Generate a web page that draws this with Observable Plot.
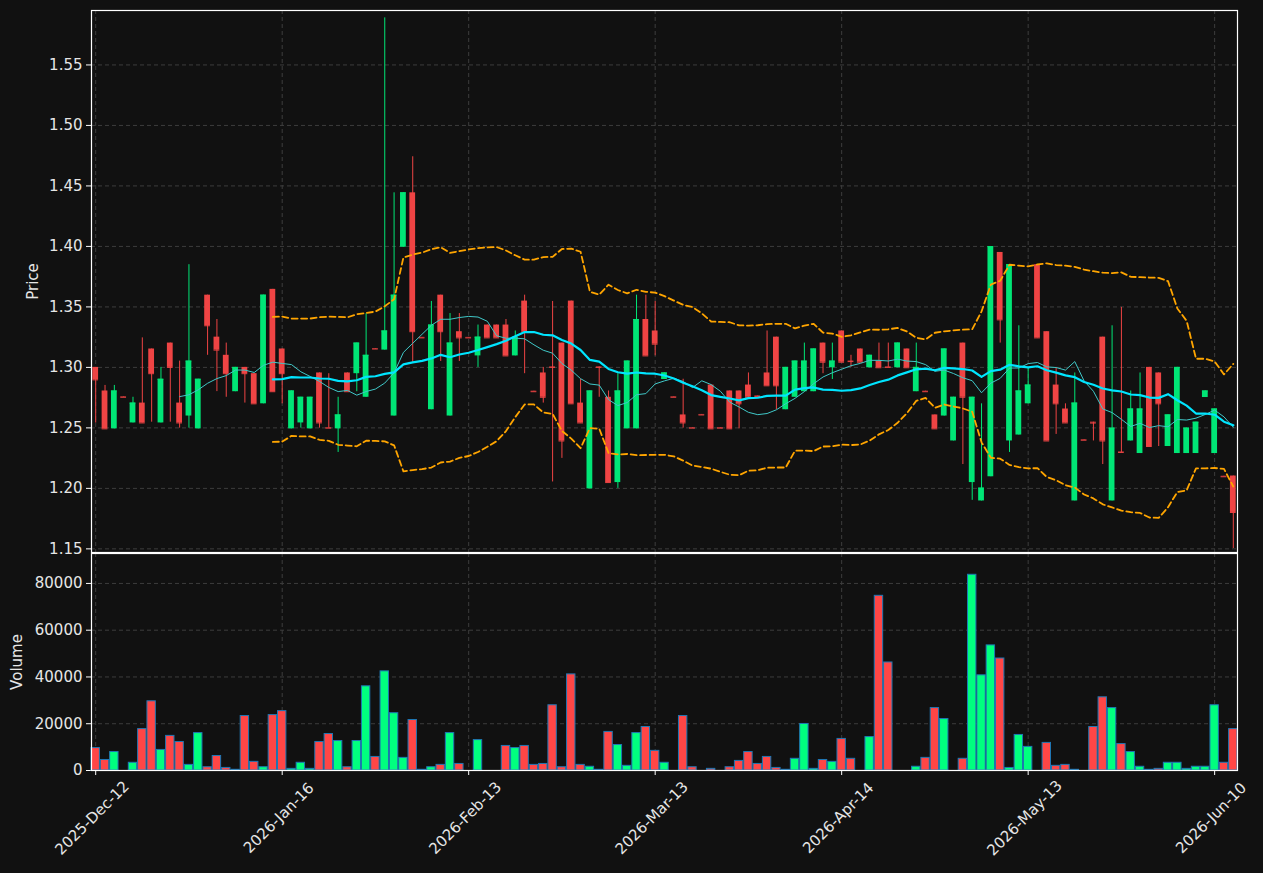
<!DOCTYPE html>
<html>
<head>
<meta charset="utf-8">
<script src="https://cdn.jsdelivr.net/npm/d3@7"></script>
<script src="https://cdn.jsdelivr.net/npm/@observablehq/plot@0.6"></script>
<style>
  html, body { margin: 0; padding: 0; background: #111111; }
  #chart { position: relative; width: 1263px; height: 873px; background: #111111; overflow: hidden; }
  #chart svg { position: absolute; left: 0; overflow: visible; }
</style>
</head>
<body>
<div id="chart"></div>
<script>
// ---- Data ----
const tickIndex = [0, 20, 40, 60, 80, 100, 120];
const tickLabels = ["2025-Dec-12", "2026-Jan-16", "2026-Feb-13", "2026-Mar-13", "2026-Apr-14", "2026-May-13", "2026-Jun-10"];
const priceTicks = [1.15, 1.20, 1.25, 1.30, 1.35, 1.40, 1.45, 1.50, 1.55];
const volumeTicks = [0, 20000, 40000, 60000, 80000];

const opens = [1.3000,1.2805,1.2492,1.2757,1.2541,1.2705,1.3152,1.2541,1.3201,1.2705,
1.2598,1.2492,1.3597,1.3250,1.3100,1.2799,1.3000,1.2948,1.2699,1.3645,
1.3152,1.2492,1.2541,1.2492,1.2954,1.2502,1.2492,1.2954,1.2948,1.2753,
1.3156,1.3143,1.2598,1.3993,1.4443,1.3248,1.2650,1.3597,1.2598,1.3295,
1.3248,1.3095,1.3350,1.3350,1.3350,1.3095,1.3548,1.2803,1.2954,1.3004,
1.3201,1.3548,1.2705,1.1996,1.3004,1.2753,1.2048,1.2492,1.2492,1.3396,
1.3301,1.2900,1.2757,1.2607,1.2502,1.2611,1.2854,1.2502,1.2805,1.2805,
1.2854,1.2764,1.2954,1.3250,1.2650,1.2753,1.2799,1.2799,1.3201,1.2997,
1.3301,1.3052,1.3152,1.2997,1.3052,1.3004,1.2997,1.3152,1.2799,1.2803,
1.2607,1.2598,1.2392,1.3201,1.2048,1.1896,1.2096,1.3950,1.2392,1.2441,
1.2699,1.3849,1.3295,1.2854,1.2656,1.1896,1.2402,1.2547,1.3250,1.1896,
1.2301,1.2392,1.2288,1.3000,1.2954,1.2346,1.2288,1.2288,1.2288,1.2751,
1.2288,1.2100,1.2102];

const highs = [1.3000,1.2851,1.2851,1.2757,1.2753,1.3244,1.3152,1.3000,1.3201,1.3052,
1.3849,1.2902,1.3597,1.3396,1.3201,1.3000,1.3000,1.2948,1.3597,1.3645,
1.3152,1.2805,1.2753,1.2753,1.2954,1.2948,1.2753,1.2954,1.3201,1.3445,
1.3156,1.5889,1.4443,1.4443,1.4741,1.3248,1.3545,1.3597,1.3445,1.3445,
1.3248,1.3350,1.3350,1.3350,1.3396,1.3301,1.3597,1.2803,1.3000,1.3545,
1.3201,1.3548,1.2902,1.2805,1.3004,1.2805,1.2948,1.3052,1.3597,1.3597,
1.3545,1.2954,1.2757,1.2902,1.2502,1.2611,1.2854,1.2502,1.2805,1.2805,
1.2954,1.2764,1.3301,1.3250,1.3000,1.3052,1.3201,1.3152,1.3201,1.3201,
1.3301,1.3100,1.3152,1.3100,1.3201,1.3201,1.3201,1.3152,1.3201,1.2803,
1.2607,1.3152,1.2753,1.3201,1.2753,1.2699,1.3998,1.3950,1.3849,1.3344,
1.3000,1.3849,1.3295,1.3000,1.2699,1.2954,1.2402,1.2547,1.3250,1.3344,
1.3496,1.2805,1.2954,1.3000,1.2954,1.2607,1.3000,1.2498,1.2547,1.2805,
1.2656,1.2100,1.2102];

const lows = [1.2540,1.2492,1.2492,1.2753,1.2541,1.2541,1.2547,1.2541,1.2547,1.2498,
1.2498,1.2492,1.3100,1.2800,1.2753,1.2799,1.2705,1.2699,1.2699,1.2799,
1.2699,1.2492,1.2498,1.2492,1.2498,1.2498,1.2297,1.2799,1.2799,1.2753,
1.3152,1.3143,1.2598,1.3993,1.3043,1.3244,1.2650,1.3049,1.2598,1.3049,
1.3244,1.3000,1.3244,1.3244,1.3095,1.3095,1.2948,1.2799,1.2705,1.2053,
1.2248,1.2699,1.2541,1.1996,1.2753,1.2048,1.2000,1.2492,1.2492,1.3095,
1.3095,1.2900,1.2753,1.2498,1.2498,1.2607,1.2492,1.2498,1.2492,1.2492,
1.2753,1.2760,1.2848,1.2650,1.2650,1.2753,1.2799,1.2799,1.2948,1.2900,
1.3043,1.3000,1.3043,1.2997,1.2997,1.3000,1.2997,1.2997,1.2799,1.2799,
1.2492,1.2598,1.2392,1.2197,1.1901,1.1896,1.2096,1.3201,1.2297,1.2441,
1.2699,1.3244,1.2392,1.2446,1.2541,1.1896,1.2398,1.2392,1.2197,1.1896,
1.2297,1.2392,1.2288,1.2346,1.2346,1.2346,1.2288,1.2288,1.2288,1.2751,
1.2288,1.2096,1.1503];

const closes = [1.2897,1.2492,1.2805,1.2753,1.2705,1.2541,1.2948,1.2902,1.3000,1.2541,
1.3052,1.2902,1.3344,1.3143,1.2948,1.3000,1.2948,1.2699,1.3597,1.2799,
1.2948,1.2805,1.2753,1.2753,1.2541,1.2498,1.2607,1.2799,1.3201,1.3100,
1.3152,1.3301,1.3597,1.4443,1.3295,1.3244,1.3350,1.3295,1.3201,1.3244,
1.3244,1.3250,1.3244,1.3244,1.3095,1.3250,1.3295,1.2799,1.2753,1.3000,
1.2392,1.2699,1.2541,1.2805,1.3000,1.2048,1.2805,1.3052,1.3396,1.3095,
1.3192,1.2954,1.2753,1.2541,1.2498,1.2607,1.2492,1.2498,1.2492,1.2699,
1.2753,1.2760,1.2848,1.2848,1.3000,1.3052,1.3052,1.3152,1.3043,1.3052,
1.3043,1.3048,1.3043,1.3100,1.2997,1.3000,1.3201,1.2997,1.3000,1.2799,
1.2492,1.3152,1.2753,1.2753,1.2753,1.2002,1.3998,1.3393,1.3849,1.2805,
1.2854,1.3244,1.2392,1.2699,1.2541,1.2705,1.2398,1.2540,1.2392,1.2498,
1.2297,1.2656,1.2656,1.2346,1.2699,1.2607,1.3000,1.2498,1.2547,1.2805,
1.2656,1.2096,1.1801];

const volumes = [9600,4500,7900,0,3300,17700,29600,8800,14800,12200,
2400,16000,1400,6200,1100,300,23300,3700,1400,23700,
25400,700,3300,700,12200,15600,12600,1400,12600,36000,
5800,42400,24500,5400,21600,300,1400,2400,16000,2800,
0,13000,0,0,10500,9600,10500,2400,2800,27900,
1400,41100,2400,1600,300,16500,10900,2000,16000,18600,
8400,3300,0,23300,1400,0,700,0,1400,4100,
7900,2800,5800,1100,300,5000,19900,700,4500,3700,
13500,5000,0,14300,74700,46200,0,0,1600,5400,
26700,22000,0,5000,83700,40700,53500,47900,1100,15200,
10100,0,11800,2000,2400,300,0,18600,31300,26700,
11300,7900,1600,300,700,3300,3300,700,1600,1600,
27900,3300,17700];

// ---- Styles ----
const UP = "#00e676", DOWN = "#ef4444";
const VUP = "#00ff7f", VDOWN = "#ff4646";
const GRID = "#3d3d3d";
const TEXT = "#e6e6e6";
const FONT = "DejaVu Sans";
const FS = 15;

// ---- Derived (from closes) ----
const n = closes.length;
const idx = d3.range(n);
const candles = idx.map(i => ({
  i, open: opens[i], high: highs[i], low: lows[i], close: closes[i], vol: volumes[i],
  up: closes[i] >= opens[i]
}));
function sma(p) {
  return idx.filter(i => i >= p - 1).map(i => ({i, v: d3.mean(closes.slice(i - p + 1, i + 1))}));
}
const ma10 = sma(10);
const ma20 = sma(20);
const bands = idx.filter(i => i >= 19).map(i => {
  const w = closes.slice(i - 19, i + 1);
  const m = d3.mean(w);
  const sd = Math.sqrt(d3.mean(w, x => (x - m) ** 2));
  return {i, upper: m + 2 * sd, lower: m - 2 * sd};
});

const xDomain = [-0.45, 122.45];
const W = 1263;

const price = Plot.plot({
  width: W, height: 553,
  marginLeft: 91, marginRight: 26, marginTop: 10, marginBottom: 1,
  style: {background: "transparent", color: TEXT, fontFamily: FONT, fontSize: FS + "px"},
  x: {domain: xDomain, axis: null},
  y: {domain: [1.147, 1.595]},
  color: {type: "identity"},
  marks: [
    Plot.gridY(priceTicks, {stroke: GRID, strokeOpacity: 1, strokeDasharray: "4,3"}),
    Plot.gridX(tickIndex, {stroke: GRID, strokeOpacity: 1, strokeDasharray: "4,3"}),
    Plot.axisY(priceTicks, {tickFormat: d => d.toFixed(2), tickSize: 5, tickPadding: 4, fontSize: FS, label: null, stroke: "#ffffff", fill: TEXT}),
    Plot.ruleX(candles, {x: "i", y1: "low", y2: "high", stroke: d => d.up ? UP : DOWN, strokeWidth: 1}),
    Plot.rect(candles, {x1: d => d.i - 0.31, x2: d => d.i + 0.31, y1: "open", y2: "close", fill: d => d.up ? UP : DOWN}),
    Plot.ruleY(candles, {y: "close", x1: d => d.i - 0.31, x2: d => d.i + 0.31, stroke: d => d.up ? UP : DOWN, strokeWidth: 1}),
    Plot.line(ma10, {x: "i", y: "v", stroke: "#40c8c8", strokeWidth: 1}),
    Plot.line(ma20, {x: "i", y: "v", stroke: "#00e5ff", strokeWidth: 2.2}),
    Plot.line(bands, {x: "i", y: "upper", stroke: "#ffa500", strokeWidth: 1.8, strokeDasharray: "6,3.5"}),
    Plot.line(bands, {x: "i", y: "lower", stroke: "#ffa500", strokeWidth: 1.8, strokeDasharray: "6,3.5"}),
    Plot.frame({stroke: "#ffffff", strokeWidth: 1.2}),
    Plot.text(["Price"], {frameAnchor: "left", dx: -58, rotate: -90, textAnchor: "middle", fill: TEXT, fontSize: FS})
  ]
});
price.style.top = "0px";

const volData = candles.filter(d => d.vol > 0);
const ticks = tickIndex.map((t, k) => ({t, label: tickLabels[k]}));

const volume = Plot.plot({
  width: W, height: 321,
  marginLeft: 91, marginRight: 26, marginTop: 1, marginBottom: 103,
  style: {background: "transparent", color: TEXT, fontFamily: FONT, fontSize: FS + "px"},
  x: {domain: xDomain},
  y: {domain: [0, 92800]},
  color: {type: "identity"},
  marks: [
    Plot.gridY(volumeTicks, {stroke: GRID, strokeOpacity: 1, strokeDasharray: "4,3"}),
    Plot.gridX(tickIndex, {stroke: GRID, strokeOpacity: 1, strokeDasharray: "4,3"}),
    Plot.axisY(volumeTicks, {tickFormat: d => String(d), tickSize: 5, tickPadding: 4, fontSize: FS, label: null, stroke: "#ffffff", fill: TEXT}),
    Plot.axisX(tickIndex, {tickFormat: () => "", tickSize: 5, label: null, stroke: "#ffffff"}),
    Plot.rect(volData, {x1: d => d.i - 0.45, x2: d => d.i + 0.45, y1: 0, y2: "vol", fill: d => d.up ? VUP : VDOWN, stroke: "#1f77b4", strokeWidth: 1}),
    Plot.frame({stroke: "#ffffff", strokeWidth: 1.2}),
    Plot.text(ticks, {x: "t", text: "label", frameAnchor: "bottom", dy: 51, rotate: -45, textAnchor: "middle", fill: TEXT, fontSize: FS}),
    Plot.text(["Volume"], {frameAnchor: "left", dx: -74, rotate: -90, textAnchor: "middle", fill: TEXT, fontSize: FS})
  ]
});
volume.style.top = "552px";

const chart = document.getElementById("chart");
chart.appendChild(price);
chart.appendChild(volume);
</script>
</body>
</html>
